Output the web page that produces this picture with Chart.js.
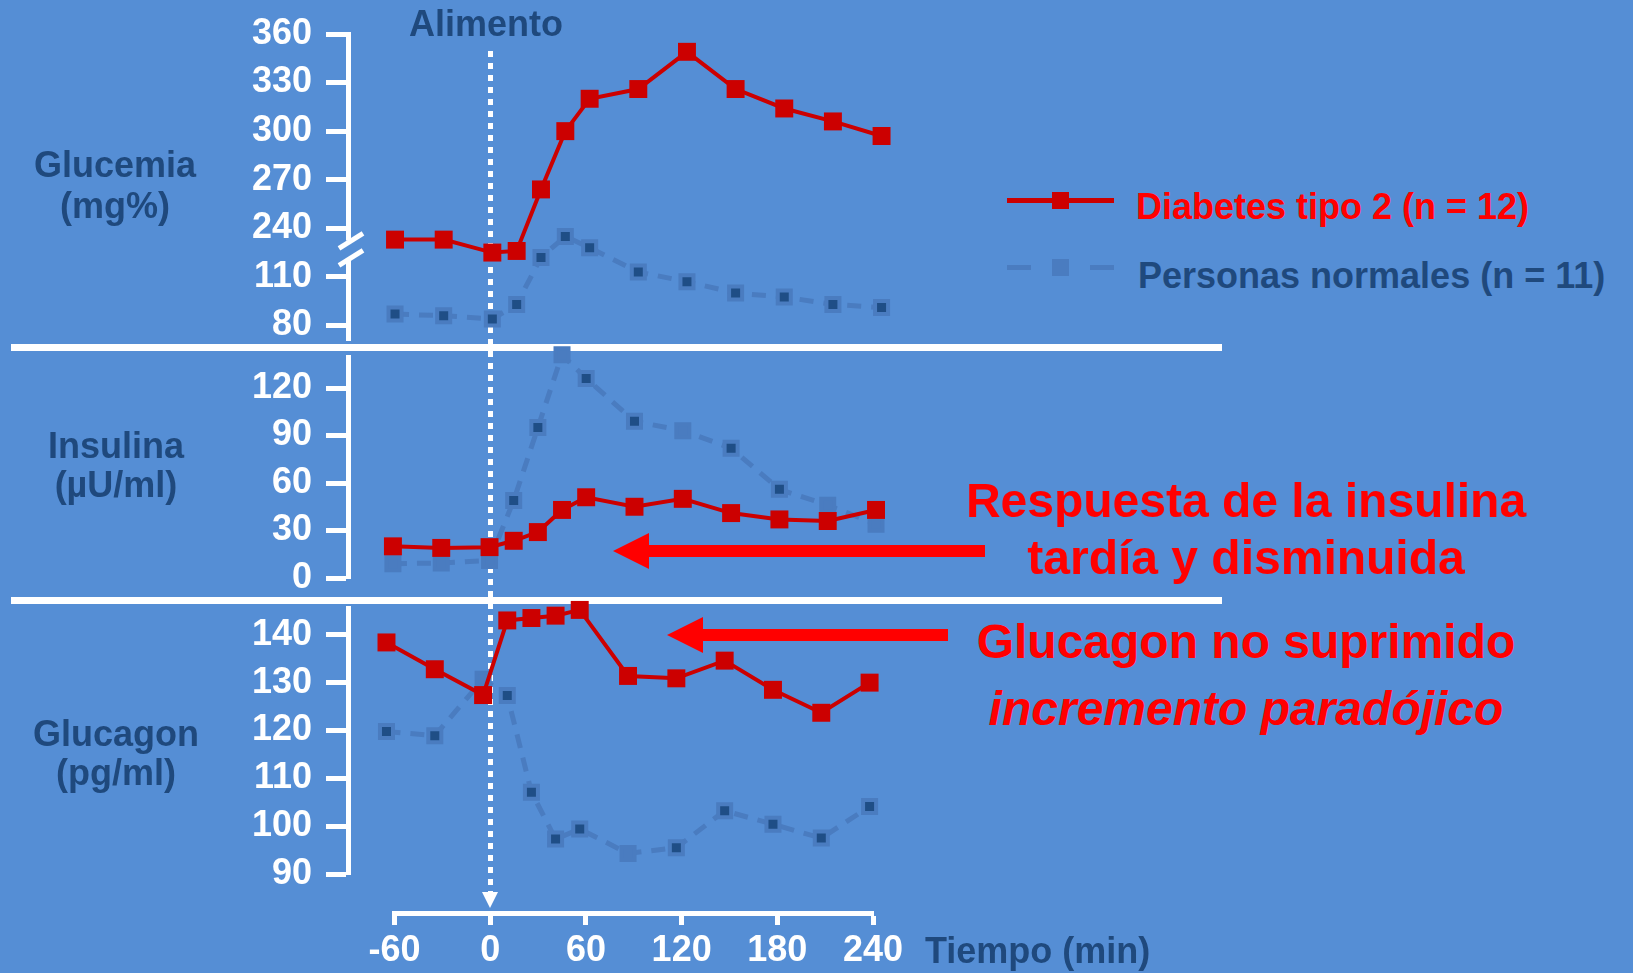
<!DOCTYPE html>
<html lang="es">
<head>
<meta charset="utf-8">
<title>Glucemia, insulina y glucagon</title>
<script src="https://cdn.jsdelivr.net/npm/chart.js@4.4.1/dist/chart.umd.min.js"></script>
<style>
  html, body { margin: 0; padding: 0; }
  body {
    width: 1633px; height: 973px; position: relative; overflow: hidden;
    background: #558ed5;
    font-family: 'Liberation Sans', Arial, sans-serif; font-weight: bold;
  }
  canvas { position: absolute; left: 0; }
  .txt { position: absolute; white-space: nowrap; font-size: 36px; line-height: 36px; color: #1f497d; }
  .center { transform: translateX(-50%); text-align: center; }
  .red { color: #ff0000; font-size: 48px; }
  .sep { position: absolute; left: 11px; width: 1211px; height: 7px; background: #fff; }
  .shaft { position: absolute; height: 12px; background: #ff0000; }
  .head { position: absolute; width: 0; height: 0; border-top: 18px solid transparent; border-bottom: 18px solid transparent; border-right: 36px solid #ff0000; }
  #dots {
    position: absolute; left: 487.5px; top: 51px; width: 5px; height: 841px;
    background: repeating-linear-gradient(to bottom, #fff 0 6px, transparent 6px 12px);
  }
  #dotsHead {
    position: absolute; left: 481.5px; top: 892px; width: 0; height: 0;
    border-left: 8.5px solid transparent; border-right: 8.5px solid transparent; border-top: 16px solid #fff;
  }
  .lgLine { position: absolute; height: 5px; }
  .lgMark { position: absolute; width: 17px; height: 17px; }
</style>
</head>
<body>

<div id="dots"></div>
<div id="dotsHead"></div>
<div class="sep" style="top:343.5px"></div>
<div class="sep" style="top:597px"></div>

<canvas id="glucemia" width="940" height="378" style="top:-2px"></canvas>
<canvas id="insulina" width="940" height="293" style="top:321px"></canvas>
<canvas id="glucagon" width="940" height="338" style="top:572px"></canvas>
<canvas id="tiempo" width="920" height="83" style="top:890px"></canvas>

<div class="txt center" style="left:486px; top:5.5px">Alimento</div>
<div class="txt center" style="left:115px; top:144px; line-height:41px">Glucemia<br>(mg%)</div>
<div class="txt center" style="left:116px; top:426px; line-height:39px">Insulina<br>(µU/ml)</div>
<div class="txt center" style="left:116px; top:714px; line-height:39px">Glucagon<br>(pg/ml)</div>
<div class="txt" style="left:925px; top:932.5px">Tiempo (min)</div>

<!-- legend -->
<div class="lgLine" style="left:1007px; width:107px; top:198px; background:#cc0000"></div>
<div class="lgMark" style="left:1052px; top:192px; background:#cc0000"></div>
<div class="txt" style="left:1136px; top:188.5px; color:#ff0000">Diabetes tipo 2 (n = 12)</div>
<div class="lgLine" style="left:1007px; width:24px; top:265px; background:#4a7cc0"></div>
<div class="lgLine" style="left:1090px; width:24px; top:265px; background:#4a7cc0"></div>
<div class="lgMark" style="left:1052px; top:259px; background:#4a7cc0"></div>
<div class="txt" style="left:1138px; top:257.5px">Personas normales (n = 11)</div>

<!-- annotations -->
<div class="shaft" style="left:643px; width:342px; top:545px"></div>
<div class="head" style="left:613px; top:533px"></div>
<div class="shaft" style="left:700px; width:248px; top:629px"></div>
<div class="head" style="left:667px; top:617px"></div>
<div class="txt center red" style="left:1246px; top:471.6px; line-height:57px">Respuesta de la insulina<br>tardía y disminuida</div>
<div class="txt center red" style="left:1246px; top:608px; line-height:67px">Glucagon no suprimido<br><i>incremento paradójico</i></div>

<script>
// Tiempo (min) de cada muestra
const times = [-60, -30, 0, 15, 30, 45, 60, 90, 120, 150, 180, 210, 240];
const timeTicks = [-60, 0, 60, 120, 180, 240];

// Glucemia (mg%)
const glucemiaDiabetes = [233, 233, 225, 226, 264, 300, 320, 326, 349, 326, 314, 306, 297];
const glucemiaNormal = [87, 86, 84, 93, 122, 135, 128, 113, 107, 100, 97.5, 93, 91];
const glucemiaTicks = [80, 110, 240, 270, 300, 330, 360];

// Insulina (µU/ml)
const insulinaDiabetes = [20, 19, 19.5, 23.5, 29, 43, 51, 45, 50, 41, 37, 36, 43];
const insulinaNormal = [9, 9.5, 11, 49, 95, 141, 126, 99, 93, 82, 56, 46, 34];
const insulinaTicks = [0, 30, 60, 90, 120];

// Glucagon (pg/ml)
const glucagonDiabetes = [138.4, 132.8, 127.4, 143, 143.5, 144, 145.2, 131.4, 130.9, 134.6, 128.5, 123.7, 130];
const glucagonNormal = [119.8, 118.9, 130.7, 127.3, 107.1, 97.3, 99.4, 94.3, 95.5, 103.2, 100.4, 97.5, 104.1];
const glucagonTicks = [90, 100, 110, 120, 130, 140];

const FONT = { family: "'Liberation Sans', Arial, sans-serif", size: 36, weight: 'bold' };
const BG = '#558ed5';
const RED = '#cc0000';
const NORMAL_LINE = '#4a7cc0';
const NORMAL_DOT = '#1f4e86';

// glucemia axis is broken between 110 and 240: the upper part is moved down by 100
const toAxis = v => v > 180 ? v - 100 : v;

const axisBreak = {
  id: 'axisBreak',
  afterDraw(chart) {
    const { ctx } = chart;
    const y = chart.scales.y;
    const x0 = y.right;
    const mid = (y.getPixelForValue(110) + y.getPixelForValue(toAxis(240))) / 2;
    ctx.save();
    ctx.fillStyle = BG;
    ctx.fillRect(x0 - 5, mid - 12, 10, 18);
    ctx.strokeStyle = '#fff';
    ctx.lineWidth = 5;
    [-11.8, 5.4].forEach(dy => {
      ctx.beginPath();
      ctx.moveTo(x0 - 9, mid + dy + 7.5);
      ctx.lineTo(x0 + 15, mid + dy - 7.5);
      ctx.stroke();
    });
    ctx.restore();
  }
};

function panel(id, o) {
  const map = o.map || (v => v);
  return new Chart(document.getElementById(id), {
    type: 'line',
    data: {
      datasets: [
        {
          label: 'Diabetes tipo 2 (n = 12)',
          data: times.map((t, i) => ({ x: t, y: map(o.diabetes[i]) })),
          borderColor: RED,
          backgroundColor: RED,
          borderWidth: 4,
          pointStyle: 'rect',
          pointRadius: 12.7,
          pointBorderWidth: 0,
          clip: false
        },
        {
          label: 'Personas normales (n = 11)',
          data: times.map((t, i) => ({ x: t, y: map(o.normal[i]) })),
          borderColor: NORMAL_LINE,
          borderDash: [14, 10],
          borderWidth: 5,
          pointStyle: 'rect',
          pointRadius: 9.2,
          pointBorderWidth: 4,
          pointBorderColor: NORMAL_LINE,
          pointBackgroundColor: c => (o.faded || []).includes(c.dataIndex) ? NORMAL_LINE : NORMAL_DOT,
          clip: false
        }
      ]
    },
    options: {
      responsive: false,
      animation: false,
      events: [],
      layout: { padding: { top: 36, bottom: 36, left: 0, right: 20 } },
      plugins: { legend: { display: false }, tooltip: { enabled: false } },
      scales: {
        x: { type: 'linear', display: false, min: o.xMin, max: o.xMax },
        y: {
          min: o.yMin,
          max: o.yMax,
          afterFit: s => { s.width = 348; },
          afterBuildTicks: s => { s.ticks = o.ticks.map(v => ({ value: map(v) })); },
          border: { color: '#fff', width: 5 },
          grid: { drawOnChartArea: false, tickLength: 22, tickWidth: 5, color: '#fff' },
          ticks: { color: '#fff', font: FONT, padding: 14, callback: (v, i) => String(o.ticks[i]) }
        }
      }
    },
    plugins: o.plugins || []
  });
}

panel('glucemia', {
  diabetes: glucemiaDiabetes, normal: glucemiaNormal, ticks: glucemiaTicks,
  map: toAxis, yMin: 71, yMax: 260, xMin: -89.0, xMax: 263.7, plugins: [axisBreak]
});
panel('insulina', {
  diabetes: insulinaDiabetes, normal: insulinaNormal, ticks: insulinaTicks,
  yMin: 0, yMax: 139.6, xMin: -87.9, xMax: 267.3, faded: [0, 1, 2, 5, 8, 11, 12]
});
panel('glucagon', {
  diabetes: glucagonDiabetes, normal: glucagonNormal, ticks: glucagonTicks,
  yMin: 90, yMax: 145.6, xMin: -83.9, xMax: 271.3, faded: [2, 7]
});

// eje de tiempo comun
new Chart(document.getElementById('tiempo'), {
  type: 'line',
  data: { datasets: [] },
  options: {
    responsive: false,
    animation: false,
    events: [],
    layout: { padding: { left: 394.6, right: 47, top: 0, bottom: 0 } },
    plugins: { legend: { display: false }, tooltip: { enabled: false } },
    scales: {
      x: {
        type: 'linear', position: 'bottom', min: -60, max: 240,
        afterFit: s => { s.height = 60; },
        afterBuildTicks: s => { s.ticks = timeTicks.map(v => ({ value: v })); },
        border: { color: '#fff', width: 5 },
        grid: { drawOnChartArea: false, tickLength: 12, tickWidth: 5, color: '#fff' },
        ticks: { color: '#fff', font: FONT, padding: 4, maxRotation: 0, callback: v => String(v) }
      },
      y: { display: false }
    }
  }
});
</script>
</body>
</html>
